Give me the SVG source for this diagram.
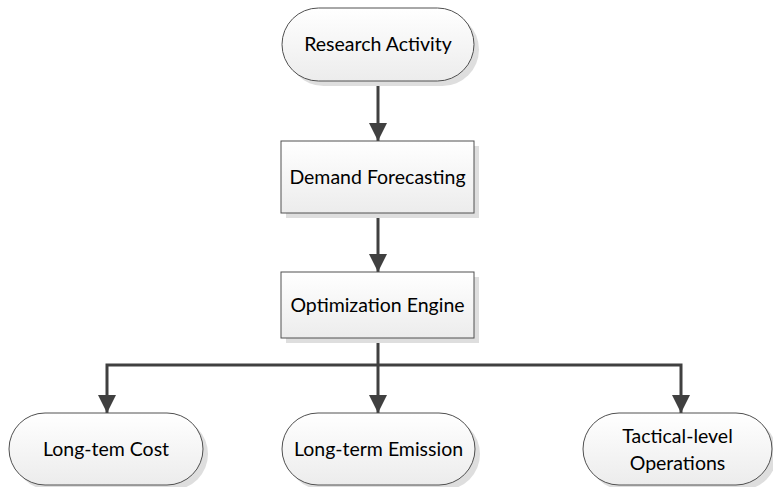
<svg xmlns="http://www.w3.org/2000/svg" width="773" height="487" viewBox="0 0 773 487">
  <defs>
    <linearGradient id="fillGrad" x1="0" y1="0" x2="0" y2="1">
      <stop offset="0" stop-color="#ffffff"/>
      <stop offset="1" stop-color="#ececec"/>
    </linearGradient>
    <marker id="arrow" viewBox="0 0 18 18" refX="18" refY="9" markerWidth="18" markerHeight="18" markerUnits="userSpaceOnUse" orient="auto">
      <path d="M0,0 L18,9 L0,18 Z" fill="#404040"/>
    </marker>
  </defs>
  <style>
    .shape { fill: url(#fillGrad); stroke: #505050; stroke-width: 1; }
    .shadow { fill: #dedede; }
    .label { font-family: Lato, "Open Sans", "Liberation Sans", sans-serif; font-size: 19.5px; fill: #000; text-anchor: middle; }
    .conn { fill: none; stroke: #404040; stroke-width: 3; }
  </style>
  <rect width="773" height="487" fill="#ffffff"/>

  <g id="connectors">
    <path class="conn" d="M378,81 L378,141" marker-end="url(#arrow)"/>
    <path class="conn" d="M378,213 L378,272" marker-end="url(#arrow)"/>
    <path class="conn" d="M378,338 L378,413" marker-end="url(#arrow)"/>
    <path class="conn" d="M378,365 L107,365 L107,413" marker-end="url(#arrow)"/>
    <path class="conn" d="M378,365 L681,365 L681,413" marker-end="url(#arrow)"/>
  </g>

  <g id="research-activity">
    <rect class="shadow" x="287" y="13" width="192" height="73" rx="36.5"/>
    <rect class="shape" x="282" y="8" width="192" height="73" rx="36.5"/>
    <text class="label" x="378" y="51">Research Activity</text>
  </g>

  <g id="demand-forecasting">
    <rect class="shadow" x="286" y="146" width="193" height="72"/>
    <rect class="shape" x="281" y="141" width="193" height="72"/>
    <text class="label" x="377.5" y="184">Demand Forecasting</text>
  </g>

  <g id="optimization-engine">
    <rect class="shadow" x="286" y="277" width="193" height="66"/>
    <rect class="shape" x="281" y="272" width="193" height="66"/>
    <text class="label" x="377.5" y="312">Optimization Engine</text>
  </g>

  <g id="long-term-cost">
    <rect class="shadow" x="14" y="418" width="194" height="72" rx="36"/>
    <rect class="shape" x="9" y="413" width="194" height="72" rx="36"/>
    <text class="label" x="106" y="456">Long-tem Cost</text>
  </g>

  <g id="long-term-emission">
    <rect class="shadow" x="287" y="418" width="193" height="72" rx="36"/>
    <rect class="shape" x="282" y="413" width="193" height="72" rx="36"/>
    <text class="label" x="378.5" y="456">Long-term Emission</text>
  </g>

  <g id="tactical-level-operations">
    <rect class="shadow" x="588" y="418" width="189" height="72" rx="36"/>
    <rect class="shape" x="583" y="413" width="189" height="72" rx="36"/>
    <text class="label" x="677.5" y="443">Tactical-level</text>
    <text class="label" x="677.5" y="470">Operations</text>
  </g>
</svg>
